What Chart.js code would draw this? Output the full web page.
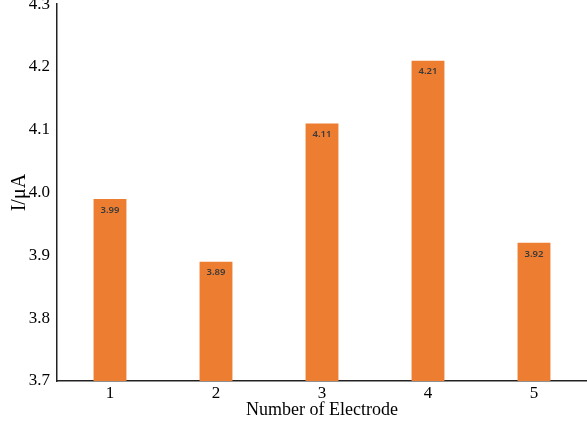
<!DOCTYPE html>
<html>
<head>
<meta charset="utf-8">
<script src="https://cdn.jsdelivr.net/npm/chart.js@4.4.1/dist/chart.umd.min.js"></script>
<style>
  body { margin: 0; background: #fff; }
  #wrap { position: relative; width: 587px; height: 421px; overflow: hidden; }
  #box { position: absolute; left: 0; top: -13px; width: 587px; height: 434px; }
</style>
</head>
<body>
<div id="wrap"><div id="box"><canvas id="electrodeChart"></canvas></div></div>
<script>
const electrodes = ['1', '2', '3', '4', '5'];
const currents = [3.99, 3.89, 4.11, 4.21, 3.92];
const yTicks = [3.7, 3.8, 3.9, 4.0, 4.1, 4.2, 4.3];

// value labels just inside the top of each bar
const barLabels = {
  id: 'barLabels',
  afterDatasetsDraw(chart) {
    const ctx = chart.ctx;
    const meta = chart.getDatasetMeta(0);
    ctx.save();
    ctx.font = '600 9.5px "Noto Sans", sans-serif';
    ctx.fillStyle = '#3a3a3a';
    ctx.textAlign = 'center';
    ctx.textBaseline = 'middle';
    meta.data.forEach((bar, i) => {
      ctx.fillText(currents[i].toFixed(2), bar.x, bar.y + 11);
    });
    ctx.restore();
  }
};

const ctx = document.getElementById('electrodeChart').getContext('2d');
new Chart(ctx, {
  type: 'bar',
  data: {
    labels: electrodes,
    datasets: [{
      data: currents,
      backgroundColor: '#ED7D31',
      barPercentage: 0.31,
      categoryPercentage: 1.0
    }]
  },
  options: {
    responsive: true,
    maintainAspectRatio: false,
    animation: false,
    layout: { padding: 0 },
    plugins: {
      legend: { display: false },
      tooltip: { enabled: false }
    },
    scales: {
      x: {
        afterFit(scale) { scale.height = 40; },
        grid: { display: false, drawTicks: false },
        border: { display: true, color: '#222', width: 1.5 },
        ticks: {
          color: '#000',
          padding: 2,
          font: { family: '"Liberation Serif", serif', size: 17 }
        },
        title: {
          display: true,
          text: 'Number of Electrode',
          color: '#000',
          padding: { top: 0, bottom: 0 },
          font: { family: '"Liberation Serif", serif', size: 18 }
        }
      },
      y: {
        min: 3.7,
        max: 4.3,
        afterFit(scale) { scale.width = 57; },
        afterBuildTicks(scale) { scale.ticks = yTicks.map(v => ({ value: v })); },
        grid: { display: false, drawTicks: false },
        border: { display: true, color: '#222', width: 1.5 },
        ticks: {
          color: '#000',
          padding: 7,
          font: { family: '"Liberation Serif", serif', size: 17 },
          callback: v => v.toFixed(1)
        },
        title: {
          display: true,
          text: 'I/μA',
          color: '#000',
          padding: { top: 8, bottom: 0 },
          font: { family: '"Liberation Serif", serif', size: 20 }
        }
      }
    }
  },
  plugins: [barLabels]
});
</script>
</body>
</html>
